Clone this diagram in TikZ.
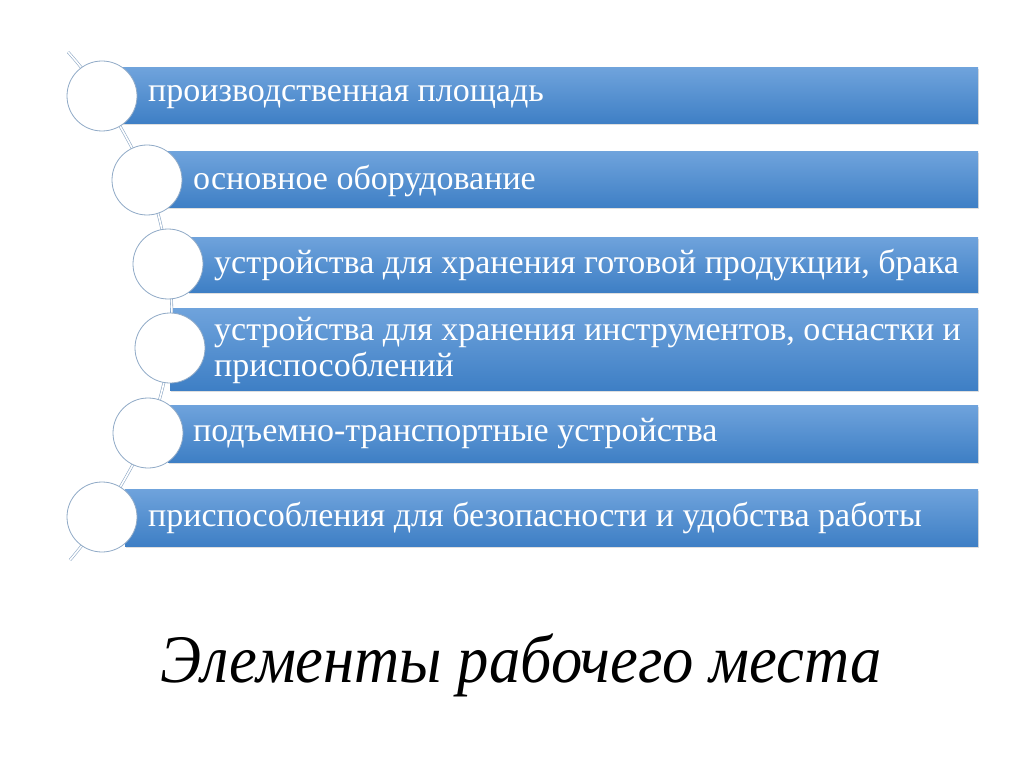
\documentclass[tikz,border=0pt]{standalone}
\usepackage{fontspec}
\setmainfont{Liberation Serif}
\usetikzlibrary{shadows}
\definecolor{bartop}{HTML}{6FA3DC}
\definecolor{barbot}{HTML}{3E7FC5}
\definecolor{ringc}{HTML}{8FA9C6}
\tikzset{
  bar/.style={draw=none, top color=bartop, bottom color=barbot, inner sep=0pt,
     drop shadow={shadow xshift=1pt, shadow yshift=-1.5pt, opacity=0.25}},
  ball/.style={circle, draw=ringc, line width=0.8pt, fill=white, minimum size=70pt, inner sep=0pt},
  lab/.style={anchor=west, text=white, font=\fontsize{34}{36}\selectfont, align=left, inner sep=0pt},
  chain/.style={draw=ringc, double=white, double distance=1.6pt, line width=0.6pt}
}
\begin{document}
\begin{tikzpicture}[x=1pt,y=-1pt]
\useasboundingbox (0,0) rectangle (1024,767);
% bars
\path[bar] (122,68) rectangle (978,124);
\path[bar] (165,152) rectangle (978,208);
\path[bar] (188,237) rectangle (978,292);
\path[bar] (170,308) rectangle (978,390);
\path[bar] (168,405) rectangle (978,462);
\path[bar] (125,489) rectangle (978,546);
% chain
\draw[chain] plot[smooth, tension=0.6] coordinates {(68,52) (102,96) (147,180) (168,264) (170,348) (148,433) (102,517) (70,560)};
% circles
\node[ball] (c1) at (102,96) {};
\node[ball] (c2) at (147,180) {};
\node[ball] (c3) at (168,264) {};
\node[ball] (c4) at (170,348) {};
\node[ball] (c5) at (148,433) {};
\node[ball] (c6) at (102,517) {};
% labels
\node[lab] (t1) at (148,97) {производственная площадь};
\node[lab] (t2) at (193,181) {основное оборудование};
\node[lab] (t3) at (214,265) {устройства для хранения готовой продукции, брака};
\node[lab] (t4) at (214,350) {устройства для хранения инструментов, оснастки и\\приспособлений};
\node[lab] (t5) at (193,434) {подъемно-транспортные устройства};
\node[lab] (t6) at (148,518) {приспособления для безопасности и удобства работы};
% title
\node[font=\fontsize{68}{72}\selectfont\itshape, inner sep=0pt, anchor=base, xscale=0.92] (title) at (521,682) {Элементы рабочего места};
\end{tikzpicture}
\end{document}
